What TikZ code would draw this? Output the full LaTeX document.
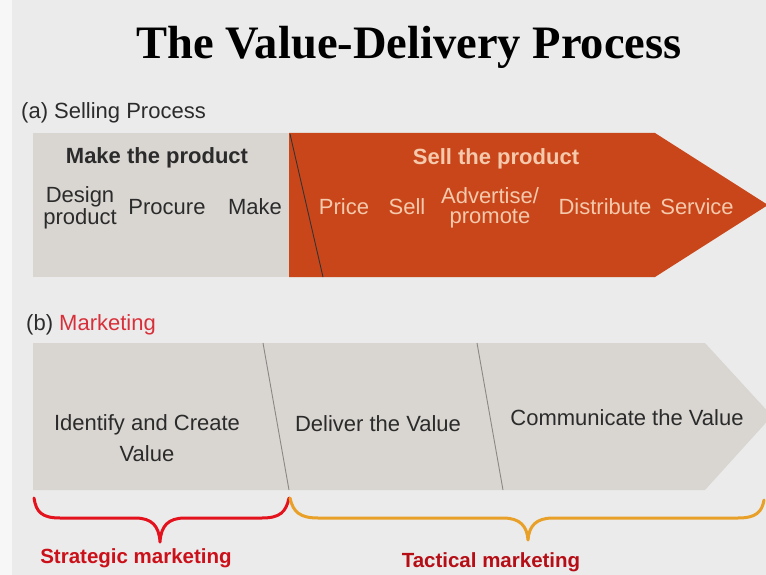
\documentclass[tikz,border=0pt]{standalone}
\usepackage{fontspec}
\setmainfont{Liberation Sans}
\newfontfamily\titlefont{Liberation Serif}
\definecolor{bggray}{HTML}{EBEBEB}
\definecolor{boxgray}{HTML}{D9D6D2}
\definecolor{txtgray}{HTML}{2B2B2B}
\definecolor{orangefill}{HTML}{C9461A}
\definecolor{peach}{HTML}{F5C9AC}
\definecolor{mkred}{HTML}{D8303A}
\definecolor{bracered}{HTML}{E3121C}
\definecolor{braceorange}{HTML}{E8A028}
\definecolor{divgray}{HTML}{8A8784}
\begin{document}
\begin{tikzpicture}[x=1pt,y=-1pt,
  lbl/.style={font=\fontsize{22}{20}\selectfont, text=txtgray, align=center, inner sep=0pt},
  bold lbl/.style={lbl, font=\fontsize{22}{20}\selectfont\bfseries},
  light lbl/.style={lbl, text=peach},
  light bold/.style={bold lbl, text=peach},
  brace lbl/.style={inner sep=0pt, font=\fontsize{20.5}{20}\selectfont\bfseries},
  bracepath/.style={line width=3pt, line cap=round, line join=round},
  divider/.style={line width=0.9pt, divgray}]
\useasboundingbox (0,0) rectangle (766,575);
\fill[bggray] (0,0) rectangle (766,575);
\fill[white!60!bggray] (0,0) rectangle (12,575);

% title
\node[inner sep=0pt, font=\titlefont\fontsize{46.5}{46}\selectfont\bfseries] (title) at (409,47) {The Value-Delivery Process};

% (a)
\node[lbl, anchor=west] (alabel) at (21,113) {(a) Selling Process};
\fill[boxgray] (33,133) rectangle (291,277);
\fill[orangefill] (289,133) -- (655,133) -- (768,205) -- (655,277) -- (289,277) -- cycle;
\draw[line width=0.9pt, black!80] (290,134) -- (323,277);

\node[bold lbl] (make) at (157,158) {Make the product};
\node[lbl] (design) at (80,208) {Design\\product};
\node[lbl] (procure) at (167,207) {Procure};
\node[lbl] (makeit) at (255,207) {Make};
\node[light bold] (sellp) at (496,159) {Sell the product};
\node[light lbl] (price) at (344,207) {Price};
\node[light lbl] (sell) at (407,207) {Sell};
\node[light lbl] (adv) at (490,208) {Advertise/\\promote};
\node[light lbl] (dist) at (605,207) {Distribute};
\node[light lbl] (serv) at (697,207) {Service};

% (b)
\node[lbl, anchor=west] (blabel) at (26,325) {(b) \textcolor{mkred}{Marketing}};
\fill[boxgray] (33,343) -- (705,343) -- (772,416) -- (705,490) -- (33,490) -- cycle;
\draw[divider] (263,343) -- (289,490);
\draw[divider] (477,343) -- (503,490);
\node[lbl] (identify) at (147,438) {Identify and Create\\[9pt]Value};
\node[lbl] (deliver) at (378,424) {Deliver the Value};
\node[lbl] (comm) at (627,418) {Communicate the Value};

% braces
\coordinate (r1) at (34,498);
\coordinate (rt) at (160,542);
\coordinate (r2) at (289,498);
\coordinate (o1) at (290,498);
\coordinate (ot) at (528,540);
\coordinate (o2) at (764,500);
\draw[bracepath, bracered] (r1) .. controls (36,512) and (42,518) .. (60,518) -- (135,518)
  .. controls (152,518) and (159,526) .. (rt)
  .. controls (161,526) and (168,518) .. (185,518) -- (262,518)
  .. controls (280,518) and (286,512) .. (r2);
\draw[bracepath, braceorange] (o1) .. controls (293,512) and (300,518) .. (318,518) -- (503,518)
  .. controls (520,518) and (527,526) .. (ot)
  .. controls (529,526) and (536,518) .. (553,518) -- (738,518)
  .. controls (756,518) and (762,512) .. (o2);
\node[brace lbl, text=bracered!90!black] (strat) at (136,558) {Strategic marketing};
\node[brace lbl, text=bracered!80!black] (tact) at (491,562) {Tactical marketing};
\end{tikzpicture}
\end{document}
